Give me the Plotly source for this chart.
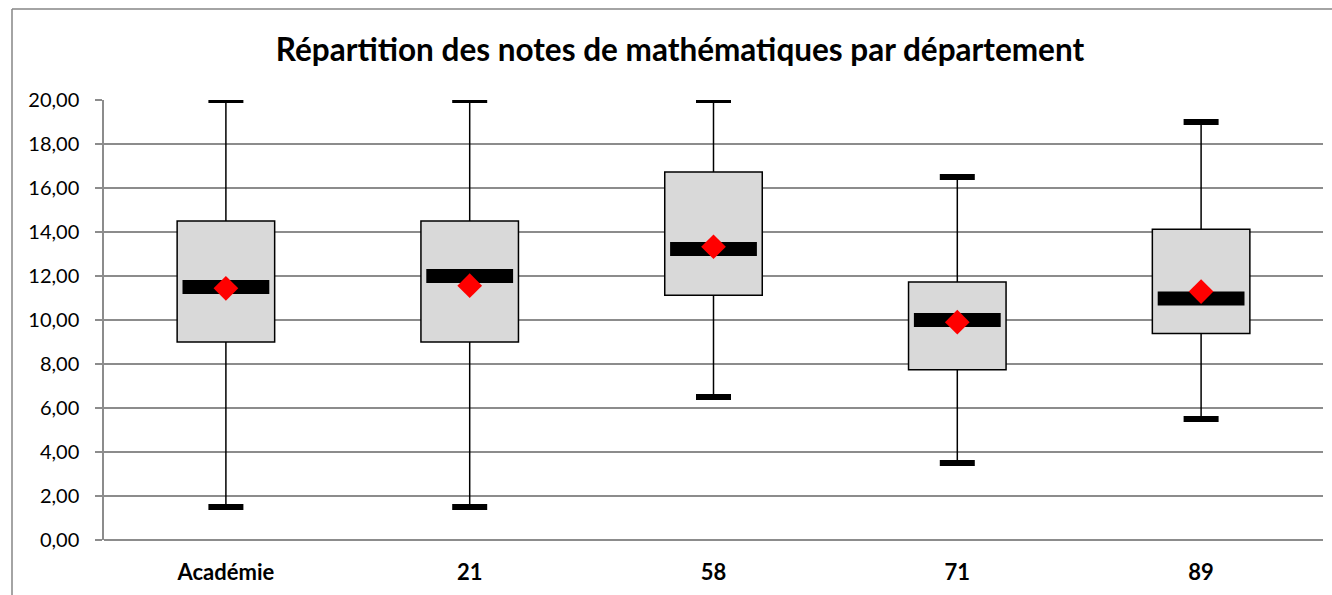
import plotly.graph_objects as go

categories = ["Académie", "21", "58", "71", "89"]
minimum = [1.5, 1.5, 6.5, 3.5, 5.5]
q1 = [9.0, 9.0, 11.12, 7.74, 9.39]
median = [11.5, 12.0, 13.23, 10.0, 10.98]
q3 = [14.5, 14.5, 16.73, 11.73, 14.12]
maximum = [20.0, 20.0, 20.0, 16.5, 19.0]
mean = [11.44, 11.56, 13.33, 9.9, 11.29]

W, H = 1332, 595
L, R, T, B = 104, 9, 100, 55

fig = go.Figure()

# boxes (Q1 -> Q3)
fig.add_trace(go.Bar(
    x=categories, y=[b - a for a, b in zip(q1, q3)], base=q1, width=0.4,
    marker=dict(color="#D9D9D9", line=dict(color="black", width=1.5)),
    showlegend=False, hoverinfo="skip"))

# whiskers
wx, wy = [], []
for c, lo, a, b, hi in zip(categories, minimum, q1, q3, maximum):
    wx += [c, c, None, c, c, None]
    wy += [b, hi, None, a, lo, None]
fig.add_trace(go.Scatter(x=wx, y=wy, mode="lines",
                         line=dict(color="black", width=1.5),
                         showlegend=False, hoverinfo="skip"))

# whisker caps
fig.add_trace(go.Scatter(
    x=categories + categories, y=maximum + minimum, mode="markers",
    marker=dict(symbol="line-ew", size=25, line=dict(color="black", width=6)),
    showlegend=False, hoverinfo="skip"))

# median
fig.add_trace(go.Scatter(
    x=categories, y=median, mode="markers",
    marker=dict(symbol="line-ew", size=62, line=dict(color="black", width=14)),
    showlegend=False, hoverinfo="skip"))

# mean
fig.add_trace(go.Scatter(
    x=categories, y=mean, mode="markers",
    marker=dict(symbol="diamond", size=19, color="#FF0000", line=dict(width=0)),
    showlegend=False, hoverinfo="skip"))

# outer chart border (left and top edges only)
bx = (12 - L) / (W - L - R)
by = (H - B - 9) / (H - T - B)
fig.add_shape(type="line", xref="paper", yref="paper", x0=bx, x1=bx, y0=-0.3, y1=by,
              line=dict(color="#868686", width=1.5), layer="below")
fig.add_shape(type="line", xref="paper", yref="paper", x0=bx, x1=1.05, y0=by, y1=by,
              line=dict(color="#868686", width=1.5), layer="below")

fig.update_layout(
    width=W, height=H,
    margin=dict(l=L, r=R, t=T, b=B, pad=0),
    paper_bgcolor="white", plot_bgcolor="white",
    separators=", ",
    font=dict(family="Lato, Carlito, sans-serif", color="black"),
    title=dict(text="<b>Répartition des notes de mathématiques par département</b>",
               x=680 / W, xref="container", xanchor="center",
               y=1 - 50 / H, yref="container", yanchor="middle",
               font=dict(size=31.5, color="black")),
    xaxis=dict(showgrid=False, showline=False, ticks="", zeroline=False,
               tickfont=dict(size=22, weight="bold"), ticklabelstandoff=17,
               range=[-0.5, 4.5]),
    yaxis=dict(range=[0, 20], dtick=2, tickformat=".2f",
               showgrid=True, gridcolor="#8C8C8C", gridwidth=1.5,
               showline=True, linecolor="#8C8C8C", linewidth=1.5,
               ticks="outside", ticklen=7, tickcolor="#8C8C8C", tickwidth=1.5,
               zeroline=True, zerolinecolor="#8C8C8C", zerolinewidth=1.5,
               tickfont=dict(size=20), ticklabelstandoff=12),
)

post = (
    "document.documentElement.style.overflow='hidden';"
    "document.body.style.margin='0';document.body.style.overflow='hidden';"
)
fig.write_html("out.html", config={"displayModeBar": False}, post_script=post)
